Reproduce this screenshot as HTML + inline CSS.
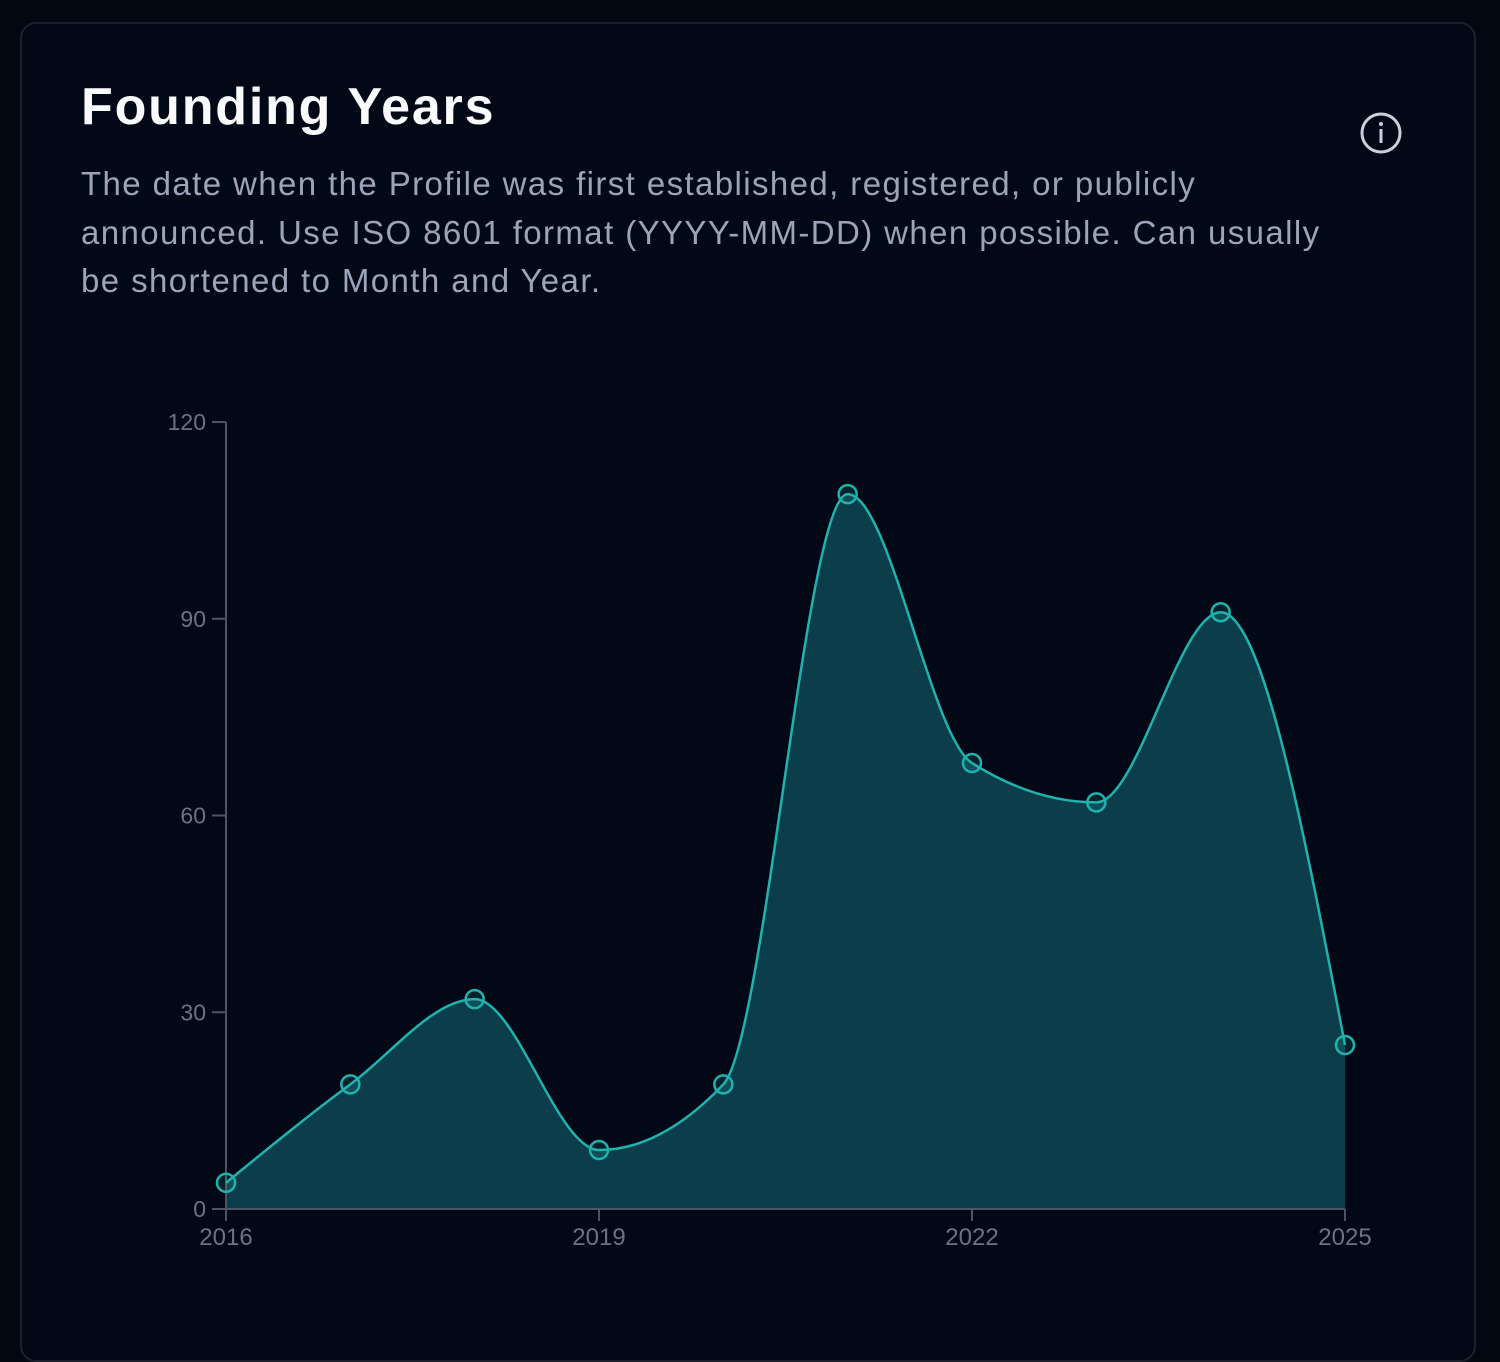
<!DOCTYPE html>
<html><head><meta charset="utf-8"><style>
html,body{margin:0;padding:0;width:1500px;height:1330px;overflow:hidden;background:#030712;font-family:"Liberation Sans",sans-serif}
.card{position:absolute;left:20px;top:22px;width:1456px;height:1340px;border:2px solid #1a202c;border-radius:16px;box-sizing:border-box;background:#030816}
h1{position:absolute;left:59px;top:53px;margin:0;font-size:52px;font-weight:bold;color:#f9fafb;letter-spacing:1.8px}
p{position:absolute;left:59px;top:136px;margin:0;font-size:33px;line-height:48.5px;color:#9aa5b8;letter-spacing:1.4px;white-space:nowrap}
</style></head><body>
<div class="card">
<h1>Founding Years</h1>
<p>The date when the Profile was first established, registered, or publicly<br>announced. Use ISO 8601 format (YYYY-MM-DD) when possible. Can usually<br>be shortened to Month and Year.</p>
</div>
<svg width="1500" height="1330" style="position:absolute;left:0;top:0" id="chart">
<g>
<circle cx="1381" cy="133" r="19" fill="none" stroke="#c8d0dc" stroke-width="3"/>
<circle cx="1381" cy="124" r="2" fill="#c8d0dc"/>
<rect x="1379.5" y="129" width="3" height="14" fill="#c8d0dc"/>
</g>
<g id="plot"></g>
</svg>
<script>
const years=[2016,2017,2018,2019,2020,2021,2022,2023,2024,2025];
const counts=[4,19,32,9,19,109,68,62,91,25];
const yTicks=[0,30,60,90,120];
const xTicks=[2016,2019,2022,2025];
const X0=226,X1=1345,Y0=1209,Y1=422;
function xs(v){return X0+(v-2016)/(2025-2016)*(X1-X0);}
function ys(v){return Y0-(v/120)*(Y0-Y1);}
const NS="http://www.w3.org/2000/svg";
const g=document.getElementById('plot');
function mk(t,a){const e=document.createElementNS(NS,t);for(const k in a)e.setAttribute(k,a[k]);g.appendChild(e);return e;}
const px=years.map(xs),py=counts.map(ys),n=px.length;
const d=[],m=[];
for(let i=0;i<n-1;i++)d.push((py[i+1]-py[i])/(px[i+1]-px[i]));
for(let i=0;i<n;i++){
 if(i===0)m.push(d[0]);else if(i===n-1)m.push(d[n-2]);
 else{ if(d[i-1]*d[i]<=0)m.push(0);else{const h0=px[i]-px[i-1],h1=px[i+1]-px[i],p=(d[i-1]*h1+d[i]*h0)/(h0+h1);m.push((Math.sign(d[i-1])+Math.sign(d[i]))*Math.min(Math.abs(d[i-1]),Math.abs(d[i]),0.5*Math.abs(p)));}}
}
m[0]=(3*d[0]-m[1])/2;m[n-1]=(3*d[n-2]-m[n-2])/2;
let path=`M${px[0]},${py[0]}`;
for(let i=0;i<n-1;i++){const h=(px[i+1]-px[i])/3;path+=`C${px[i]+h},${py[i]+h*m[i]} ${px[i+1]-h},${py[i+1]-h*m[i+1]} ${px[i+1]},${py[i+1]}`;}
const area=mk('path',{d:path+`L${px[n-1]},${Y0}L${px[0]},${Y0}Z`,fill:'#0b3d4a'});


const ya=mk('line',{x1:X0,y1:Y1,x2:X0,y2:Y0,stroke:'#4b5563','stroke-width':2});


const xa=mk('line',{x1:X0,y1:Y0,x2:X1,y2:Y0,stroke:'#4b5563','stroke-width':2});


yTicks.forEach(t=>{
 mk('line',{x1:X0-14,y1:ys(t),x2:X0,y2:ys(t),stroke:'#4b5563','stroke-width':2});
 const tx=mk('text',{x:X0-20,y:ys(t)+8,'text-anchor':'end',fill:'#6b7280','font-size':23,'font-family':'Liberation Sans, sans-serif'});
 tx.textContent=t;
 
 
});
xTicks.forEach(t=>{
 mk('line',{x1:xs(t),y1:Y0,x2:xs(t),y2:Y0+12,stroke:'#4b5563','stroke-width':2});
 const tx=mk('text',{x:xs(t),y:Y0+36,'text-anchor':'middle',fill:'#6b7280','font-size':24,'font-family':'Liberation Sans, sans-serif'});
 tx.textContent=t;
 
 
});
const ln=mk('path',{d:path,fill:'none',stroke:'#1fb3ad','stroke-width':2.5});


for(let i=0;i<n;i++){
 const c=mk('circle',{cx:px[i],cy:py[i],r:9,fill:'rgba(31,179,173,0.15)',stroke:'#1fb3ad','stroke-width':2.5});
 
 
}
</script>
</body></html>
